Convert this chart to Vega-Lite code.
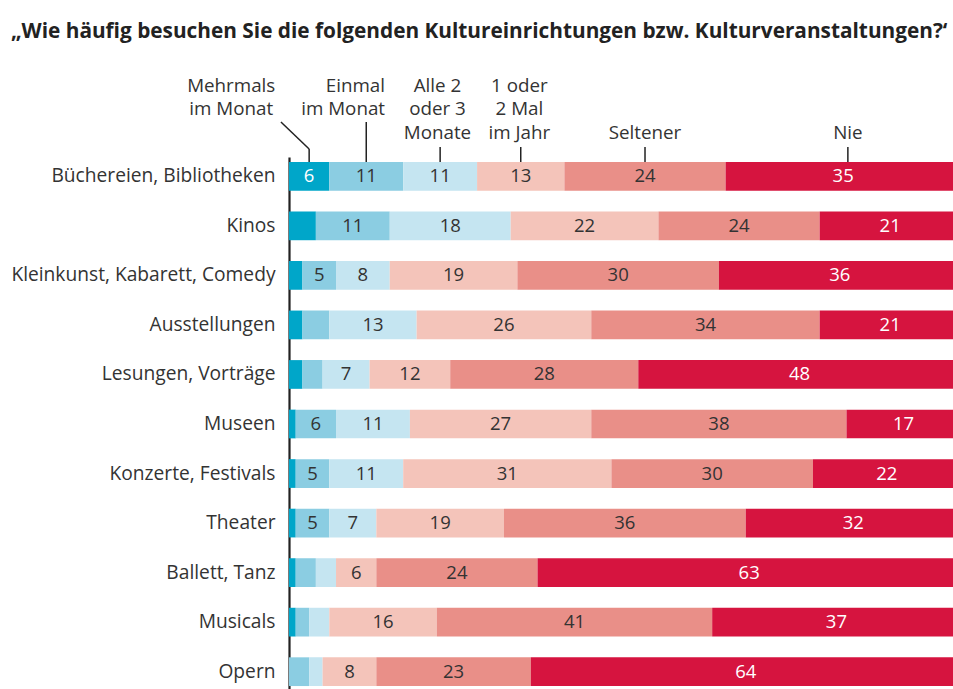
{
  "$schema": "https://vega.github.io/schema/vega-lite/v6.json",
  "width": 665,
  "height": 534,
  "autosize": {"type": "pad"},
  "padding": {"left": 10, "top": 20, "right": 0, "bottom": 0},
  "title": {
    "text": "„Wie häufig besuchen Sie die folgenden Kultureinrichtungen bzw. Kulturveranstaltungen?‘",
    "anchor": "start",
    "frame": "bounds",
    "font": "Open Sans",
    "fontSize": 20.8,
    "fontWeight": "bold",
    "color": "#222222",
    "offset": 34
  },
  "config": {"view": {"stroke": null}, "font": "Open Sans"},
  "datasets": {
    "survey": [
      {"cat": "Büchereien, Bibliotheken", "k": "Mehrmals im Monat", "o": 1, "v": 6},
      {"cat": "Büchereien, Bibliotheken", "k": "Einmal im Monat", "o": 2, "v": 11},
      {"cat": "Büchereien, Bibliotheken", "k": "Alle 2 oder 3 Monate", "o": 3, "v": 11},
      {"cat": "Büchereien, Bibliotheken", "k": "1 oder 2 Mal im Jahr", "o": 4, "v": 13},
      {"cat": "Büchereien, Bibliotheken", "k": "Seltener", "o": 5, "v": 24},
      {"cat": "Büchereien, Bibliotheken", "k": "Nie", "o": 6, "v": 35},
      {"cat": "Kinos", "k": "Mehrmals im Monat", "o": 1, "v": 4},
      {"cat": "Kinos", "k": "Einmal im Monat", "o": 2, "v": 11},
      {"cat": "Kinos", "k": "Alle 2 oder 3 Monate", "o": 3, "v": 18},
      {"cat": "Kinos", "k": "1 oder 2 Mal im Jahr", "o": 4, "v": 22},
      {"cat": "Kinos", "k": "Seltener", "o": 5, "v": 24},
      {"cat": "Kinos", "k": "Nie", "o": 6, "v": 21},
      {"cat": "Kleinkunst, Kabarett, Comedy", "k": "Mehrmals im Monat", "o": 1, "v": 2},
      {"cat": "Kleinkunst, Kabarett, Comedy", "k": "Einmal im Monat", "o": 2, "v": 5},
      {"cat": "Kleinkunst, Kabarett, Comedy", "k": "Alle 2 oder 3 Monate", "o": 3, "v": 8},
      {"cat": "Kleinkunst, Kabarett, Comedy", "k": "1 oder 2 Mal im Jahr", "o": 4, "v": 19},
      {"cat": "Kleinkunst, Kabarett, Comedy", "k": "Seltener", "o": 5, "v": 30},
      {"cat": "Kleinkunst, Kabarett, Comedy", "k": "Nie", "o": 6, "v": 36},
      {"cat": "Ausstellungen", "k": "Mehrmals im Monat", "o": 1, "v": 2},
      {"cat": "Ausstellungen", "k": "Einmal im Monat", "o": 2, "v": 4},
      {"cat": "Ausstellungen", "k": "Alle 2 oder 3 Monate", "o": 3, "v": 13},
      {"cat": "Ausstellungen", "k": "1 oder 2 Mal im Jahr", "o": 4, "v": 26},
      {"cat": "Ausstellungen", "k": "Seltener", "o": 5, "v": 34},
      {"cat": "Ausstellungen", "k": "Nie", "o": 6, "v": 21},
      {"cat": "Lesungen, Vorträge", "k": "Mehrmals im Monat", "o": 1, "v": 2},
      {"cat": "Lesungen, Vorträge", "k": "Einmal im Monat", "o": 2, "v": 3},
      {"cat": "Lesungen, Vorträge", "k": "Alle 2 oder 3 Monate", "o": 3, "v": 7},
      {"cat": "Lesungen, Vorträge", "k": "1 oder 2 Mal im Jahr", "o": 4, "v": 12},
      {"cat": "Lesungen, Vorträge", "k": "Seltener", "o": 5, "v": 28},
      {"cat": "Lesungen, Vorträge", "k": "Nie", "o": 6, "v": 48},
      {"cat": "Museen", "k": "Mehrmals im Monat", "o": 1, "v": 1},
      {"cat": "Museen", "k": "Einmal im Monat", "o": 2, "v": 6},
      {"cat": "Museen", "k": "Alle 2 oder 3 Monate", "o": 3, "v": 11},
      {"cat": "Museen", "k": "1 oder 2 Mal im Jahr", "o": 4, "v": 27},
      {"cat": "Museen", "k": "Seltener", "o": 5, "v": 38},
      {"cat": "Museen", "k": "Nie", "o": 6, "v": 17},
      {"cat": "Konzerte, Festivals", "k": "Mehrmals im Monat", "o": 1, "v": 1},
      {"cat": "Konzerte, Festivals", "k": "Einmal im Monat", "o": 2, "v": 5},
      {"cat": "Konzerte, Festivals", "k": "Alle 2 oder 3 Monate", "o": 3, "v": 11},
      {"cat": "Konzerte, Festivals", "k": "1 oder 2 Mal im Jahr", "o": 4, "v": 31},
      {"cat": "Konzerte, Festivals", "k": "Seltener", "o": 5, "v": 30},
      {"cat": "Konzerte, Festivals", "k": "Nie", "o": 6, "v": 22},
      {"cat": "Theater", "k": "Mehrmals im Monat", "o": 1, "v": 1},
      {"cat": "Theater", "k": "Einmal im Monat", "o": 2, "v": 5},
      {"cat": "Theater", "k": "Alle 2 oder 3 Monate", "o": 3, "v": 7},
      {"cat": "Theater", "k": "1 oder 2 Mal im Jahr", "o": 4, "v": 19},
      {"cat": "Theater", "k": "Seltener", "o": 5, "v": 36},
      {"cat": "Theater", "k": "Nie", "o": 6, "v": 32},
      {"cat": "Ballett, Tanz", "k": "Mehrmals im Monat", "o": 1, "v": 1},
      {"cat": "Ballett, Tanz", "k": "Einmal im Monat", "o": 2, "v": 3},
      {"cat": "Ballett, Tanz", "k": "Alle 2 oder 3 Monate", "o": 3, "v": 3},
      {"cat": "Ballett, Tanz", "k": "1 oder 2 Mal im Jahr", "o": 4, "v": 6},
      {"cat": "Ballett, Tanz", "k": "Seltener", "o": 5, "v": 24},
      {"cat": "Ballett, Tanz", "k": "Nie", "o": 6, "v": 63},
      {"cat": "Musicals", "k": "Mehrmals im Monat", "o": 1, "v": 1},
      {"cat": "Musicals", "k": "Einmal im Monat", "o": 2, "v": 2},
      {"cat": "Musicals", "k": "Alle 2 oder 3 Monate", "o": 3, "v": 3},
      {"cat": "Musicals", "k": "1 oder 2 Mal im Jahr", "o": 4, "v": 16},
      {"cat": "Musicals", "k": "Seltener", "o": 5, "v": 41},
      {"cat": "Musicals", "k": "Nie", "o": 6, "v": 37},
      {"cat": "Opern", "k": "Mehrmals im Monat", "o": 1, "v": 0},
      {"cat": "Opern", "k": "Einmal im Monat", "o": 2, "v": 3},
      {"cat": "Opern", "k": "Alle 2 oder 3 Monate", "o": 3, "v": 2},
      {"cat": "Opern", "k": "1 oder 2 Mal im Jahr", "o": 4, "v": 8},
      {"cat": "Opern", "k": "Seltener", "o": 5, "v": 23},
      {"cat": "Opern", "k": "Nie", "o": 6, "v": 64}
    ],
    "headC": [
      {"lab": ["Mehrmals", "im Monat"], "x": -8.6, "y": 65.5},
      {"lab": ["Alle 2", "oder 3", "Monate"], "x": 22.1, "y": 65.5},
      {"lab": ["1 oder", "2 Mal", "im Jahr"], "x": 34.3, "y": 65.5},
      {"lab": ["Seltener"], "x": 53, "y": 18.5},
      {"lab": ["Nie"], "x": 83.2, "y": 18.5}
    ],
    "headR": [
      {"lab": ["Einmal", "im Monat"], "x": 14.3, "y": 65.5}
    ],
    "leaders": [
      {"x": -1.2, "x2": 3, "y": 35, "y2": 8},
      {"x": 3, "x2": 3, "y": 8, "y2": -5},
      {"x": 11.5, "x2": 11.5, "y": 35, "y2": -5},
      {"x": 22.5, "x2": 22.5, "y": 10, "y2": -5},
      {"x": 34.5, "x2": 34.5, "y": 10, "y2": -5},
      {"x": 53, "x2": 53, "y": 10, "y2": -5},
      {"x": 83.2, "x2": 83.2, "y": 10, "y2": -5}
    ]
  },
  "layer": [
    {
      "data": {"name": "survey"},
      "layer": [
        {
          "mark": {"type": "bar", "clip": true},
          "encoding": {
            "x": {"field": "v", "type": "quantitative", "stack": "zero", "scale": {"domain": [0, 99], "nice": false, "zero": false}, "axis": null},
            "y": {
              "field": "cat", "type": "nominal",
              "scale": {
                "domain": ["Büchereien, Bibliotheken", "Kinos", "Kleinkunst, Kabarett, Comedy", "Ausstellungen", "Lesungen, Vorträge", "Museen", "Konzerte, Festivals", "Theater", "Ballett, Tanz", "Musicals", "Opern"],
                "paddingInner": 0.42, "paddingOuter": 0.1
              },
              "axis": {"title": null, "domain": true, "domainColor": "#222222", "domainWidth": 2.2, "ticks": false, "grid": false, "labelFont": "Open Sans", "labelFontSize": 19.2, "labelColor": "#333333", "labelPadding": 14, "labelLimit": 400}
            },
            "color": {
              "field": "k", "type": "nominal",
              "scale": {
                "domain": ["Mehrmals im Monat", "Einmal im Monat", "Alle 2 oder 3 Monate", "1 oder 2 Mal im Jahr", "Seltener", "Nie"],
                "range": ["#00a6c9", "#8bcde2", "#c5e5f1", "#f4c4ba", "#e98f88", "#d6143f"]
              },
              "legend": null
            },
            "order": {"field": "o", "type": "quantitative"}
          }
        },
        {
          "transform": [
            {"stack": "v", "groupby": ["cat"], "sort": [{"field": "o", "order": "ascending"}], "as": ["x0", "x1"]},
            {"calculate": "(datum.x0 + datum.x1) / 2", "as": "mid"},
            {"filter": "datum.v >= 5"}
          ],
          "mark": {"type": "text", "font": "Open Sans", "fontSize": 18.5, "align": "center", "baseline": "middle"},
          "encoding": {
            "x": {"field": "mid", "type": "quantitative", "scale": {"domain": [0, 99], "nice": false, "zero": false}},
            "y": {"field": "cat", "type": "nominal"},
            "text": {"field": "v", "type": "quantitative"},
            "color": {"condition": {"test": "datum.k === 'Nie' || datum.k === 'Mehrmals im Monat'", "value": "#ffffff"}, "value": "#333333"}
          }
        }
      ]
    },
    {
      "layer": [
        {
          "data": {"name": "headC"},
          "mark": {"type": "text", "font": "Open Sans", "fontSize": 18.8, "align": "center", "baseline": "alphabetic", "lineHeight": 23.5, "color": "#333333"},
          "encoding": {
            "x": {"field": "x", "type": "quantitative", "scale": {"domain": [0, 99], "nice": false, "zero": false}},
            "y": {"field": "y", "type": "quantitative", "scale": {"domain": [-534, 0], "nice": false, "zero": false}, "axis": null},
            "text": {"field": "lab", "type": "nominal"}
          }
        },
        {
          "data": {"name": "headR"},
          "mark": {"type": "text", "font": "Open Sans", "fontSize": 18.8, "align": "right", "baseline": "alphabetic", "lineHeight": 23.5, "color": "#333333"},
          "encoding": {
            "x": {"field": "x", "type": "quantitative", "scale": {"domain": [0, 99], "nice": false, "zero": false}},
            "y": {"field": "y", "type": "quantitative"},
            "text": {"field": "lab", "type": "nominal"}
          }
        },
        {
          "data": {"name": "leaders"},
          "mark": {"type": "rule", "color": "#222222", "strokeWidth": 1.5},
          "encoding": {
            "x": {"field": "x", "type": "quantitative", "scale": {"domain": [0, 99], "nice": false, "zero": false}},
            "x2": {"field": "x2"},
            "y": {"field": "y", "type": "quantitative"},
            "y2": {"field": "y2"}
          }
        }
      ]
    }
  ],
  "resolve": {"scale": {"y": "independent"}}
}
